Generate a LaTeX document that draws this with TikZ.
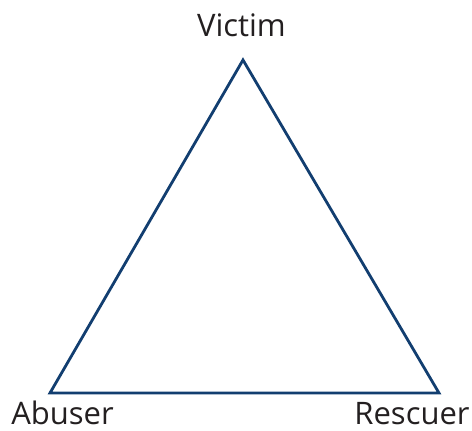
\documentclass[tikz,border=0pt]{standalone}
\usepackage{fontspec}
\setmainfont{Open Sans}
\definecolor{triblue}{RGB}{18,62,112}
\definecolor{txtgrey}{RGB}{35,31,32}
\begin{document}
\begin{tikzpicture}[x=1pt,y=1pt,
  lbl/.style={font=\fontsize{31}{36}\selectfont, text=txtgrey, inner sep=0pt, text depth=0pt, anchor=base},
  side/.style={draw=triblue, line width=2.8pt, line join=miter}]
\useasboundingbox (0,0) rectangle (472,431);
\coordinate (v) at (243,371);
\coordinate (a) at (50,38);
\coordinate (r) at (439,38);
\draw[side] (v) -- (r) -- (a) -- cycle;
\node[lbl] (tv) at (241.5,394) {Victim};
\node[lbl] (ta) at (62.5,6) {Abuser};
\node[lbl] (tr) at (412,6) {Rescuer};
\end{tikzpicture}
\end{document}
